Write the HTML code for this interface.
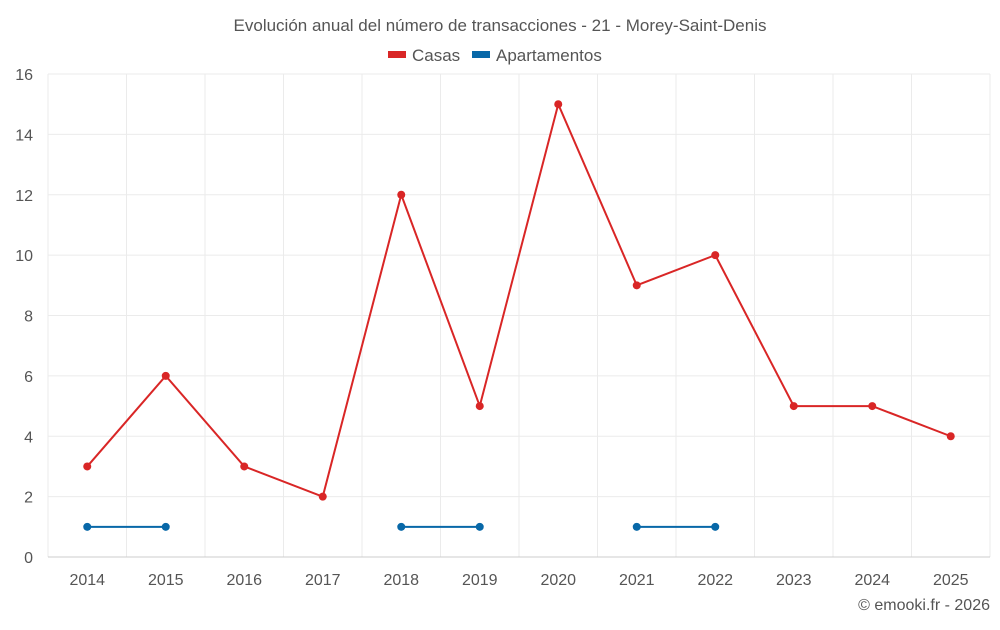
<!DOCTYPE html>
<html><head><meta charset="utf-8"><style>
body{margin:0;background:#fff;font-family:"Liberation Sans",sans-serif}
svg text{font-family:"Liberation Sans",sans-serif;fill:#555}
</style></head><body>
<svg id="c" width="1000" height="625">
<text x="500" y="31" text-anchor="middle" font-size="17">Evolución anual del número de transacciones - 21 - Morey-Saint-Denis</text>
<g><rect x="388" y="51" width="18" height="7" fill="#d92626"/><text x="412" y="61" font-size="17">Casas</text></g>
<g><rect x="472" y="51" width="18" height="7" fill="#0868a8"/><text x="496" y="61" font-size="17">Apartamentos</text></g>
<g id="grid"></g><g id="axes"></g><g id="series"></g>
<text x="990" y="610" text-anchor="end" font-size="16">© emooki.fr - 2026</text>
</svg>
<script>
const categories=["2014","2015","2016","2017","2018","2019","2020","2021","2022","2023","2024","2025"];
const casas=[3,6,3,2,12,5,15,9,10,5,5,4];
const apartamentos=[1,1,null,null,1,1,null,1,1,null,null,null];
const yTicks=[0,2,4,6,8,10,12,14,16];
const L=48,R=990,T=74,B=557,yMax=16;
const NS="http://www.w3.org/2000/svg";
const bw=(R-L)/categories.length;
const x=i=>L+bw*(i+0.5);
const y=v=>B-(B-T)*v/yMax;
function mk(tag,a,p){const e=document.createElementNS(NS,tag);for(const k in a)e.setAttribute(k,a[k]);p.appendChild(e);return e;}
const g=document.getElementById('grid'),ax=document.getElementById('axes'),s=document.getElementById('series');
yTicks.forEach(v=>{
 if(v>0){const l=mk('line',{x1:L,x2:R,y1:y(v),y2:y(v),stroke:'#ebebeb'},g);
 
 }
 const t=mk('text',{x:33,y:y(v)+6,'text-anchor':'end','font-size':16},ax);t.textContent=v;
 
 
});
for(let i=0;i<=categories.length;i++){const l=mk('line',{x1:L+bw*i,x2:L+bw*i,y1:T,y2:B,stroke:'#ebebeb'},g);
 
 }
categories.forEach((c,i)=>{const t=mk('text',{x:x(i),y:585,'text-anchor':'middle','font-size':16},ax);t.textContent=c;
 
 });
const base=mk('line',{x1:L,x2:R,y1:B,y2:B,stroke:'#ccc'},ax);


function draw(vals,col,name){
 let d='',pen=false;
 vals.forEach((v,i)=>{if(v==null){pen=false;return;}d+=(pen?'L':'M')+x(i)+' '+y(v);pen=true;});
 const p=mk('path',{d:d,fill:'none',stroke:col,'stroke-width':2},s);
 
 
 vals.forEach((v,i)=>{if(v==null)return;const c=mk('circle',{cx:x(i),cy:y(v),r:4,fill:col},s);
 
 });
}
draw(casas,'#d92626','casas');
draw(apartamentos,'#0868a8','apartamentos');
</script>
</body></html>
